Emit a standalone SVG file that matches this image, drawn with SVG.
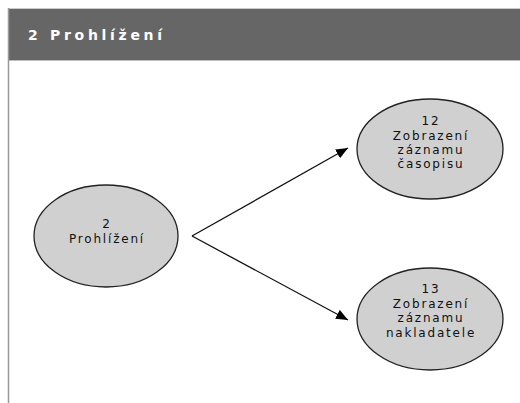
<svg xmlns="http://www.w3.org/2000/svg" width="520" height="403" viewBox="0 0 520 403">
<style>
.node ellipse{fill:#d0d0d0;stroke:#222;stroke-width:1.3}
.node text{font-family:"DejaVu Sans",Verdana,sans-serif;font-size:12px;fill:#111;text-anchor:middle;letter-spacing:1.8px}
.edge{stroke:#111;stroke-width:1.3;fill:none;marker-end:url(#arr)}
</style>
<defs>
<marker id="arr" viewBox="0 0 12 10" refX="12" refY="5" markerWidth="12" markerHeight="10" markerUnits="userSpaceOnUse" orient="auto"><path d="M0,0 L12,5 L0,10 z" fill="#000"/></marker>
</defs>
<rect x="0" y="0" width="520" height="403" fill="#fff"/>
<g id="header">
<rect x="8" y="8" width="512" height="52" fill="#666"/>
<line x1="8" y1="8.5" x2="520" y2="8.5" stroke="#ccc"/>
<line x1="8" y1="60.5" x2="520" y2="60.5" stroke="#bbb"/>
<line x1="8.5" y1="8" x2="8.5" y2="403" stroke="#999" stroke-width="1.5"/>
<text x="28" y="40" font-family="DejaVu Sans,Verdana,sans-serif" font-size="14" font-weight="bold" fill="#fff" letter-spacing="3.7">2 Prohlížení</text>
</g>
<g id="connectors">
<path class="edge" d="M192,236 L348,148"/>
<path class="edge" d="M192,236 L348,320"/>
</g>
<g id="n2" class="node">
<ellipse cx="106" cy="236" rx="72" ry="51"/>
<text x="107" y="228">2</text>
<text x="107" y="243">Prohlížení</text>
</g>
<g id="n12" class="node">
<ellipse cx="430" cy="149" rx="73" ry="50"/>
<text x="431" y="125">12</text>
<text x="431" y="140">Zobrazení</text>
<text x="431" y="154">záznamu</text>
<text x="431" y="168">časopisu</text>
</g>
<g id="n13" class="node">
<ellipse cx="430" cy="319" rx="73" ry="51"/>
<text x="431" y="293">13</text>
<text x="431" y="308">Zobrazení</text>
<text x="431" y="322">záznamu</text>
<text x="431" y="337">nakladatele</text>
</g>
</svg>
